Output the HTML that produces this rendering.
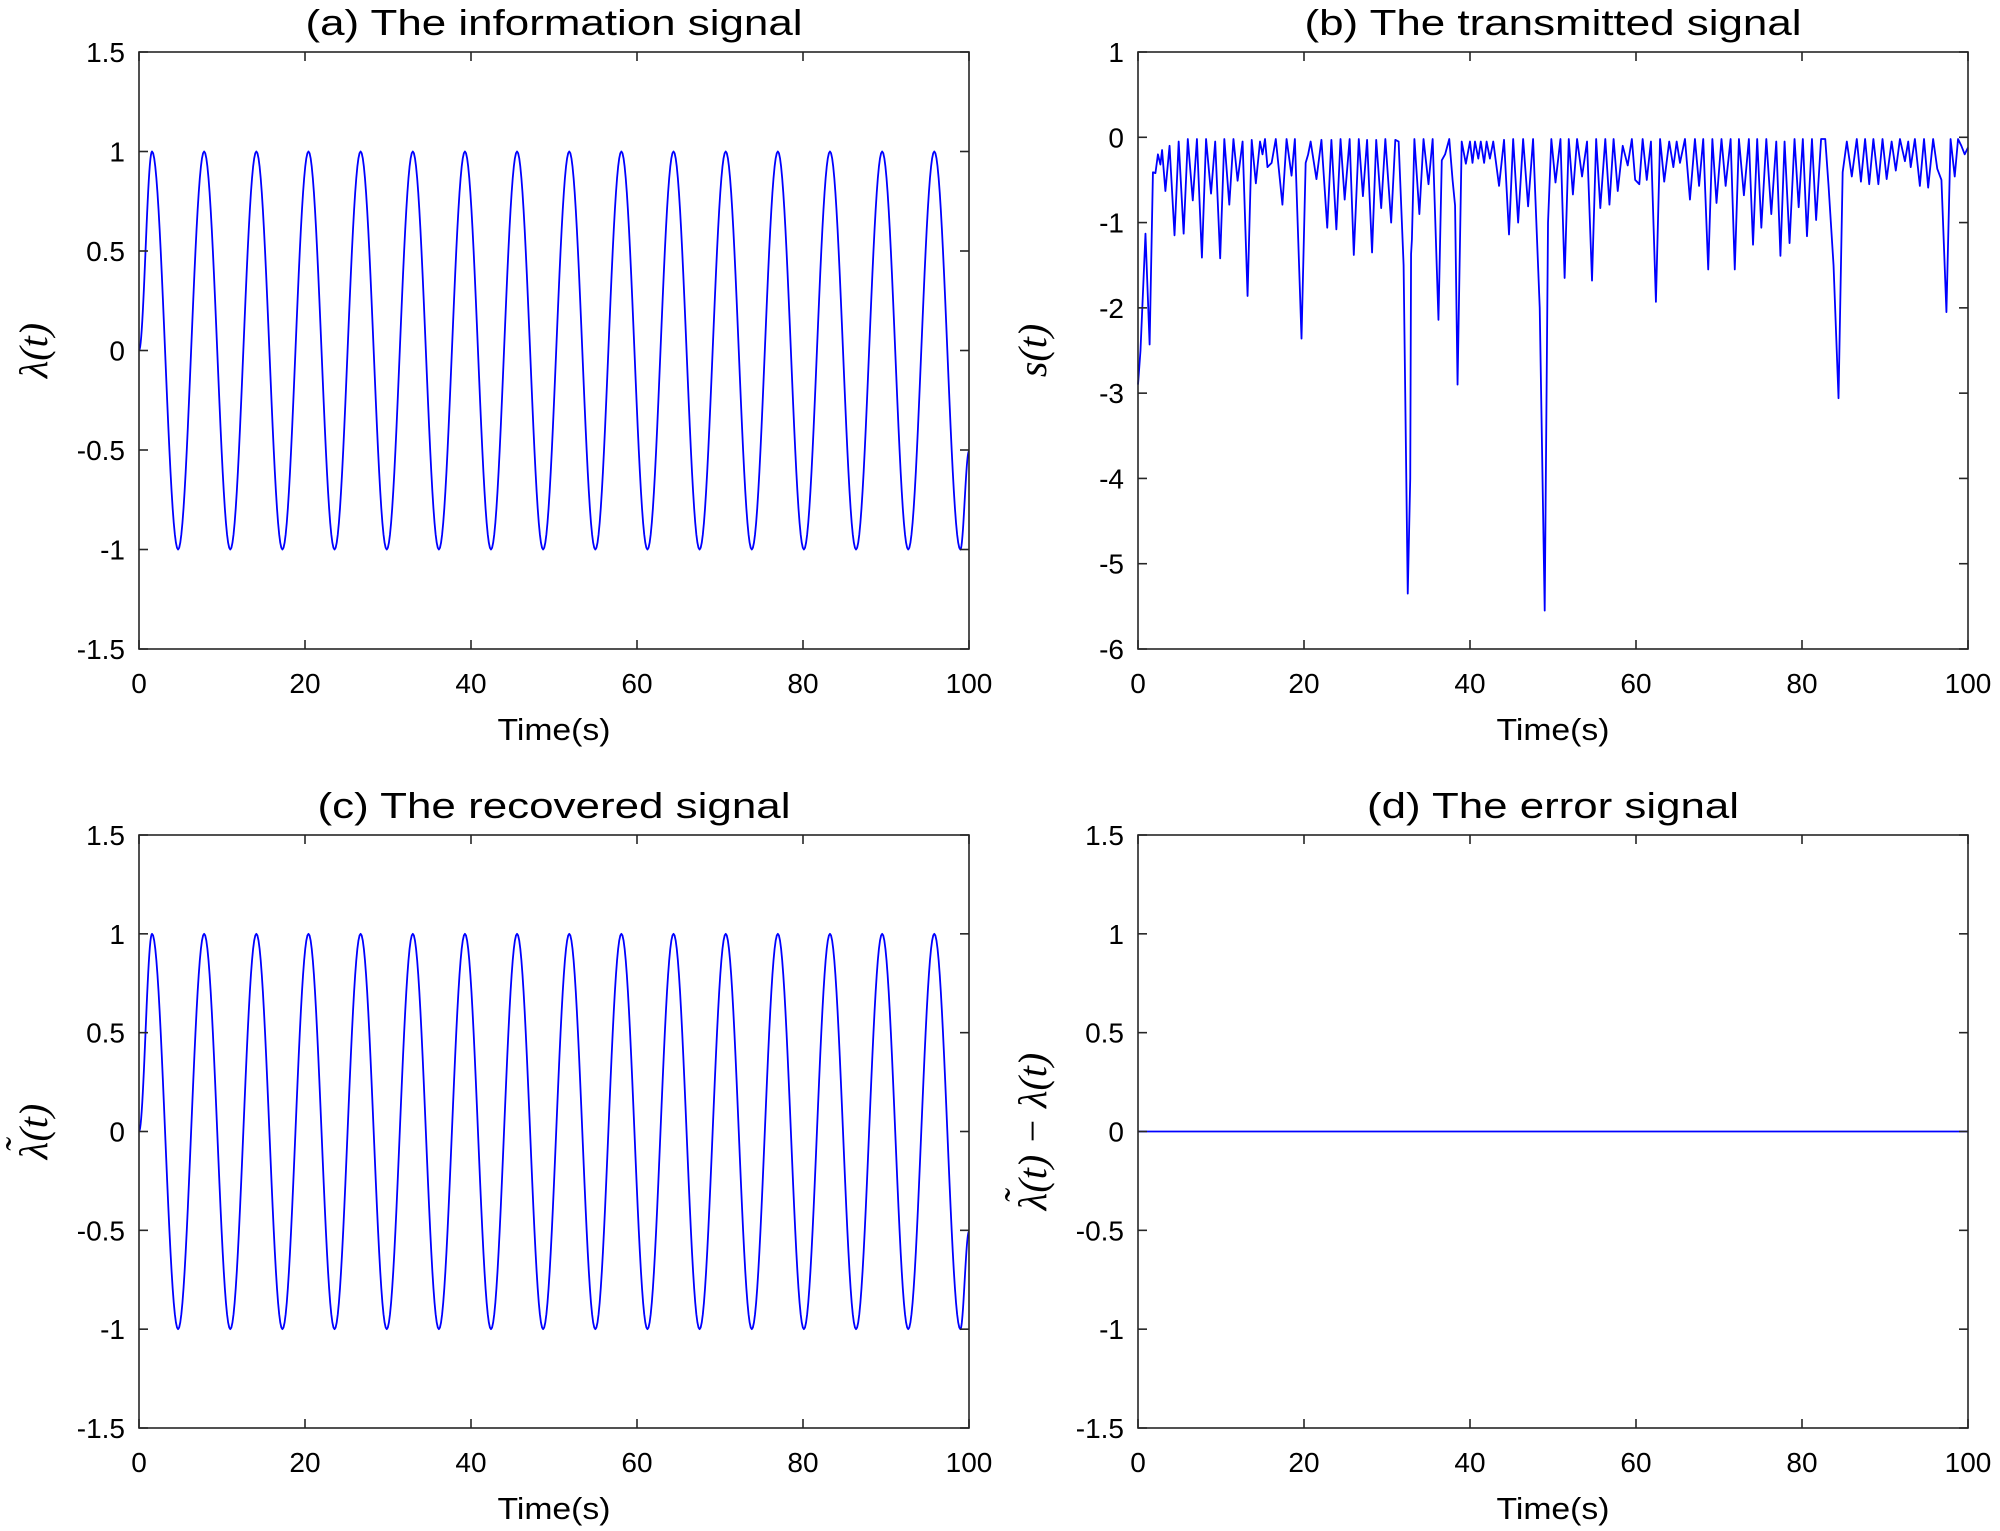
<!DOCTYPE html>
<html><head><meta charset="utf-8"><style>
html,body{margin:0;padding:0;background:#fff;}
svg{display:block;}
text{font-family:"Liberation Sans",sans-serif;fill:#000;}
.ml{font-family:"Liberation Serif",serif;font-style:italic;}
</style></head><body>
<svg id="fig" width="2000" height="1531" viewBox="0 0 2000 1531" xmlns="http://www.w3.org/2000/svg"></svg>
<script>
// ---- data ----
const xTicks = [0, 20, 40, 60, 80, 100];
const yTicksSine = [-1.5, -1, -0.5, 0, 0.5, 1, 1.5];
const yTicksS = [-6, -5, -4, -3, -2, -1, 0, 1];
// extrema of the information signal (time, value)
const sineTime = [0, 1.57, 4.71, 7.85, 11.0, 14.14, 17.28, 20.42, 23.56, 26.70, 29.85, 32.99, 36.13, 39.27, 42.41, 45.55, 48.69, 51.84, 54.98, 58.12, 61.26, 64.40, 67.54, 70.69, 73.83, 76.97, 80.11, 83.25, 86.39, 89.54, 92.68, 95.82, 98.96, 100];
const sineValue = [0, 1, -1, 1, -1, 1, -1, 1, -1, 1, -1, 1, -1, 1, -1, 1, -1, 1, -1, 1, -1, 1, -1, 1, -1, 1, -1, 1, -1, 1, -1, 1, -1, -0.506];
// transmitted signal samples
const sTime = [0,0.3,0.9,1.4,1.8,2.1,2.4,2.7,2.9,3.3,3.8,4.4,4.9,5.5,6.0,6.6,7.1,7.7,8.2,8.8,9.3,9.9,10.4,11,11.5,12,12.6,13.2,13.7,14.2,14.7,15.0,15.3,15.6,16.1,16.6,17.4,17.9,18.5,18.9,19.7,20.2,20.5,20.8,21.5,22.1,22.8,23.3,23.9,24.4,24.9,25.5,26,26.6,27.1,27.6,28.2,28.7,29.3,29.8,30.5,31.0,31.4,32.0,32.5,32.8,32.9,33.0,33.3,33.9,34.4,35,35.5,36.2,36.6,37.0,37.5,37.9,38.2,38.5,39.0,39.5,40,40.3,40.6,41,41.3,41.7,42,42.4,42.8,43.5,44.1,44.7,45.2,45.8,46.4,47,47.6,48.4,49.0,49.4,49.8,50.3,50.9,51.4,51.9,52.4,52.9,53.5,54.1,54.7,55.2,55.7,56.3,56.8,57.3,57.8,58.4,59,59.5,59.9,60.4,60.8,61.3,61.8,62.4,62.9,63.4,64,64.5,64.9,65.3,65.9,66.5,67.1,67.6,68.1,68.7,69.2,69.7,70.3,70.8,71.4,71.9,72.4,73,73.6,74.1,74.6,75.1,75.7,76.3,76.9,77.4,77.9,78.5,79.1,79.6,80.1,80.6,81.2,81.7,82.3,82.8,83.2,83.8,84.4,84.9,85.4,86,86.6,87.1,87.6,88.1,88.6,89.2,89.7,90.2,90.8,91.3,91.8,92.4,92.8,93.1,93.6,94.2,94.7,95.2,95.8,96.3,96.8,97.4,97.9,98.4,98.8,99.2,99.6,100];
const sValue = [-2.9,-2.5,-1.13,-2.43,-0.41,-0.42,-0.2,-0.32,-0.15,-0.63,-0.1,-1.15,-0.05,-1.13,-0.02,-0.74,-0.02,-1.41,-0.02,-0.66,-0.05,-1.42,-0.02,-0.79,-0.02,-0.51,-0.05,-1.86,-0.03,-0.54,-0.05,-0.2,-0.02,-0.35,-0.3,-0.02,-0.79,-0.02,-0.45,-0.02,-2.36,-0.3,-0.2,-0.05,-0.49,-0.03,-1.06,-0.03,-1.08,-0.02,-0.73,-0.02,-1.38,-0.02,-0.69,-0.03,-1.35,-0.03,-0.83,-0.02,-1.0,-0.03,-0.05,-1.5,-5.35,-4.0,-1.37,-1.2,-0.02,-0.9,-0.02,-0.55,-0.02,-2.14,-0.27,-0.2,-0.02,-0.5,-0.8,-2.9,-0.05,-0.31,-0.05,-0.3,-0.05,-0.25,-0.05,-0.3,-0.05,-0.25,-0.05,-0.57,-0.03,-1.14,-0.02,-1.0,-0.02,-0.81,-0.02,-2.0,-5.55,-1.0,-0.02,-0.53,-0.02,-1.65,-0.02,-0.67,-0.02,-0.46,-0.05,-1.68,-0.02,-0.83,-0.02,-0.79,-0.02,-0.63,-0.1,-0.33,-0.02,-0.5,-0.55,-0.02,-0.5,-0.05,-1.93,-0.02,-0.52,-0.05,-0.35,-0.05,-0.3,-0.02,-0.73,-0.02,-0.57,-0.02,-1.55,-0.02,-0.77,-0.02,-0.57,-0.02,-1.55,-0.02,-0.68,-0.02,-1.26,-0.02,-1.06,-0.02,-0.9,-0.05,-1.39,-0.05,-1.24,-0.02,-0.82,-0.02,-1.16,-0.02,-0.97,-0.02,-0.02,-0.57,-1.5,-3.06,-0.41,-0.05,-0.46,-0.02,-0.52,-0.02,-0.55,-0.02,-0.55,-0.02,-0.49,-0.05,-0.39,-0.02,-0.28,-0.05,-0.35,-0.02,-0.57,-0.02,-0.59,-0.02,-0.37,-0.5,-2.05,-0.02,-0.46,-0.02,-0.1,-0.2,-0.12];
const errTime = [0, 100];
const errValue = [0, 0];

const NS = "http://www.w3.org/2000/svg";
const svg = document.getElementById('fig');
function mk(tag, attrs, parent){
  const e = document.createElementNS(NS, tag);
  for (const k in attrs) e.setAttribute(k, attrs[k]);
  (parent || svg).appendChild(e);
  return e;
}
function fmt(v){ return String(v); }
function ts(parent, txt, attrs){
  const t = mk('tspan', attrs || {}, parent);
  t.textContent = txt;
  return t;
}

function panel(opt){
  const g = mk('g', {});
  
  
  const L = opt.x0, R = opt.x1, T = opt.y0, B = opt.y1;
  const xs = t => L + (t - 0) / 100 * (R - L);
  const ys = v => B - (v - opt.ymin) / (opt.ymax - opt.ymin) * (B - T);

  let d;
  if (opt.ease) {
    d = 'M' + xs(opt.tx[0]).toFixed(2) + ',' + ys(opt.vy[0]).toFixed(2);
    for (let i = 0; i < opt.tx.length - 1; i++) {
      const ta = opt.tx[i], tb = opt.tx[i+1], va = opt.vy[i], vb = opt.vy[i+1];
      const n = 24;
      for (let k = 1; k <= n; k++) {
        const u = k / n;
        const t = ta + (tb - ta) * u;
        const v = va + (vb - va) * (1 - Math.cos(Math.PI * u)) / 2;
        d += 'L' + xs(t).toFixed(2) + ',' + ys(v).toFixed(2);
      }
    }
  } else {
    d = opt.tx.map((t, i) => (i ? 'L' : 'M') + xs(t).toFixed(2) + ',' + ys(opt.vy[i]).toFixed(2)).join('');
  }
  const line = mk('path', {d: d, fill: 'none', stroke: '#0000ff', 'stroke-width': 1.8, 'stroke-linejoin': 'round'}, g);
  
  

  const box = mk('rect', {x: L, y: T, width: R - L, height: B - T, fill: 'none', stroke: '#262626', 'stroke-width': 1.6}, g);
  
  

  xTicks.forEach(t => {
    const x = xs(t);
    mk('line', {x1: x, y1: B, x2: x, y2: B - 9, stroke: '#262626', 'stroke-width': 1.6}, g);
    mk('line', {x1: x, y1: T, x2: x, y2: T + 9, stroke: '#262626', 'stroke-width': 1.6}, g);
    const tl = mk('text', {x: x, y: B + 44, 'font-size': 28, 'text-anchor': 'middle'}, g);
    tl.textContent = fmt(t);
    
    
  });
  opt.yticks.forEach(v => {
    const y = ys(v);
    mk('line', {x1: L, y1: y, x2: L + 9, y2: y, stroke: '#262626', 'stroke-width': 1.6}, g);
    mk('line', {x1: R, y1: y, x2: R - 9, y2: y, stroke: '#262626', 'stroke-width': 1.6}, g);
    const tl = mk('text', {x: L - 14, y: y + 10, 'font-size': 28, 'text-anchor': 'end'}, g);
    tl.textContent = fmt(v);
    
    
  });
  const tt = mk('text', {x: (L + R) / 2, y: T - 17, 'font-size': 36, 'text-anchor': 'middle', textLength: opt.titleLen, lengthAdjust: 'spacingAndGlyphs'}, g);
  tt.textContent = opt.title;
  
  
  const xl = mk('text', {x: (L + R) / 2, y: B + 91, 'font-size': 31, 'text-anchor': 'middle', textLength: 113, lengthAdjust: 'spacingAndGlyphs'}, g);
  xl.textContent = 'Time(s)';
  
  
  const cy = (T + B) / 2;
  const yl = mk('text', {x: 0, y: 0, 'font-size': 40, 'text-anchor': 'middle', class: 'ml', transform: 'translate(' + (L - 92) + ',' + cy + ') rotate(-90)'}, g);
  opt.ylabel(yl);
  
  
}

function lamTilde(el){
  ts(el, 'λ');
  ts(el, '˜', {dx: -11, dy: -14});
  ts(el, '(t)', {dx: -2, dy: 14});
}

panel({name: 'panel-a-information-signal', x0: 139, x1: 969, y0: 52, y1: 649, ymin: -1.5, ymax: 1.5, yticks: yTicksSine, tx: sineTime, vy: sineValue, ease: true, title: '(a) The information signal', titleLen: 497, ylabel: el => { el.textContent = 'λ(t)'; }});
panel({name: 'panel-b-transmitted-signal', x0: 1138, x1: 1968, y0: 52, y1: 649, ymin: -6, ymax: 1, yticks: yTicksS, tx: sTime, vy: sValue, ease: false, title: '(b) The transmitted signal', titleLen: 497, ylabel: el => { el.textContent = 's(t)'; }});
panel({name: 'panel-c-recovered-signal', x0: 139, x1: 969, y0: 835, y1: 1428, ymin: -1.5, ymax: 1.5, yticks: yTicksSine, tx: sineTime, vy: sineValue, ease: true, title: '(c) The recovered signal', titleLen: 473, ylabel: el => lamTilde(el)});
panel({name: 'panel-d-error-signal', x0: 1138, x1: 1968, y0: 835, y1: 1428, ymin: -1.5, ymax: 1.5, yticks: yTicksSine, tx: errTime, vy: errValue, ease: false, title: '(d) The error signal', titleLen: 372, ylabel: el => { lamTilde(el); ts(el, ' − λ(t)'); }});
</script>
</body></html>
